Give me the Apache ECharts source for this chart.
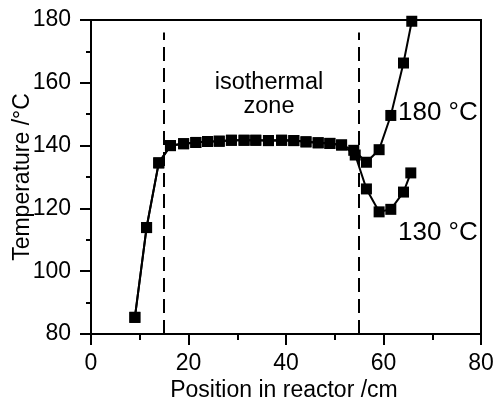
<!DOCTYPE html>
<html>
<head>
<meta charset="utf-8">
<script src="https://cdn.jsdelivr.net/npm/echarts@6/dist/echarts.min.js"></script>
<style>html,body{margin:0;padding:0;background:#fff}#c{width:496px;height:405px}</style>
</head>
<body>
<div id="c"></div>
<script>
// Shared profile (inlet + isothermal zone)
const positionsCommon = [9.0, 11.4, 13.9, 16.3, 19.0, 21.5, 23.9, 26.3, 28.8, 31.4, 33.8, 36.4, 39.1, 41.6, 44.1, 46.6, 49.0, 51.4];
const tempsCommon = [85.3, 113.9, 134.5, 140.0, 140.6, 141.0, 141.3, 141.4, 141.7, 141.7, 141.7, 141.6, 141.7, 141.6, 141.2, 140.9, 140.7, 140.2];
// Outlet part, 180 °C
const positions180 = [53.9, 56.5, 59.1, 61.5, 64.1, 65.8];
const temps180 = [138.5, 134.7, 138.7, 149.6, 166.3, 179.6];
// Outlet part, 130 °C
const positions130 = [54.2, 56.5, 59.1, 61.5, 64.1, 65.6];
const temps130 = [137.0, 126.2, 118.9, 119.7, 125.2, 131.3];
// Isothermal zone boundaries
const zoneBounds = [15, 55];
const zoneDashTop = 176;
// Axis ranges / ticks
const xTicks = [0, 20, 40, 60, 80];
const yTicks = [80, 100, 120, 140, 160, 180];
const xTitle = 'Position in reactor /cm';
const yTitle = 'Temperature /°C';

function pairs(xs, ys) { return xs.map((x, i) => [x, ys[i]]); }
const s180 = pairs(positionsCommon, tempsCommon).concat(pairs(positions180, temps180));
const s130 = pairs(positionsCommon, tempsCommon).concat(pairs(positions130, temps130));

const FONT = 'Liberation Sans, Arial, sans-serif';
const chart = echarts.init(document.getElementById('c'), null, {renderer: 'canvas'});
const lineCommon = {
  type: 'line', symbol: 'rect', symbolSize: 11, clip: true,
  lineStyle: {color: '#000', width: 2}, itemStyle: {color: '#000'},
  animation: false, z: 3
};
chart.setOption({
  animation: false,
  backgroundColor: '#fff',
  grid: {left: 91, right: 15, top: 20, bottom: 71, containLabel: false, outerBoundsMode: 'none',
    show: true, borderColor: '#000', borderWidth: 2, backgroundColor: 'transparent'},
  xAxis: {
    type: 'value', min: xTicks[0], max: xTicks[xTicks.length - 1], interval: 20,
    axisLine: {show: true, onZero: false, lineStyle: {color: '#000', width: 2}},
    axisTick: {show: true, inside: false, length: 11, lineStyle: {color: '#000', width: 2}},
    minorTick: {show: true, splitNumber: 2, length: 6, lineStyle: {color: '#000', width: 2}},
    axisLabel: {fontFamily: FONT, fontSize: 23, color: '#000', margin: 18},
    splitLine: {show: false}
  },
  yAxis: {
    type: 'value', min: yTicks[0], max: yTicks[yTicks.length - 1], interval: 20,
    axisLine: {show: true, onZero: false, lineStyle: {color: '#000', width: 2}},
    axisTick: {show: true, inside: false, length: 11, lineStyle: {color: '#000', width: 2}},
    minorTick: {show: true, splitNumber: 2, length: 5, lineStyle: {color: '#000', width: 2}},
    axisLabel: {fontFamily: FONT, fontSize: 23, color: '#000', margin: 20},
    splitLine: {show: false}
  },
  series: [
    Object.assign({}, lineCommon, {
      name: '180 °C', data: s180,
      markLine: {
        silent: true, symbol: 'none', animation: false,
        lineStyle: {color: '#000', width: 2, type: [14, 7]},
        label: {show: false},
        data: zoneBounds.map(b => [{coord: [b, yTicks[0]]}, {coord: [b, zoneDashTop]}])
      }
    }),
    Object.assign({}, lineCommon, {name: '130 °C', data: s130})
  ],
  graphic: [
    {type: 'text', x: 284, y: 391, style: {text: xTitle, font: '23px ' + FONT, fill: '#000', align: 'center', verticalAlign: 'middle'}, z: 10},
    {type: 'text', x: 23, y: 177, rotation: Math.PI / 2, style: {text: yTitle, font: '23px ' + FONT, fill: '#000', align: 'center', verticalAlign: 'middle'}, z: 10},
    {type: 'text', x: 269, y: 83, style: {text: 'isothermal', font: '23.5px ' + FONT, fill: '#000', align: 'center', verticalAlign: 'middle'}, z: 10},
    {type: 'text', x: 269, y: 107, style: {text: 'zone', font: '23.5px ' + FONT, fill: '#000', align: 'center', verticalAlign: 'middle'}, z: 10},
    {type: 'text', x: 398, y: 113, style: {text: '180 °C', font: '26px ' + FONT, fill: '#000', align: 'left', verticalAlign: 'middle'}, z: 10},
    {type: 'text', x: 398, y: 233, style: {text: '130 °C', font: '26px ' + FONT, fill: '#000', align: 'left', verticalAlign: 'middle'}, z: 10}
  ]
});
</script>
</body>
</html>
